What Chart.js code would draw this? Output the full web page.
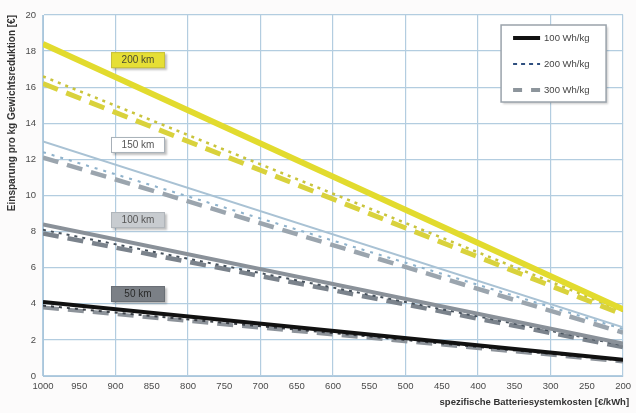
<!DOCTYPE html>
<html lang="de">
<head>
  <meta charset="UTF-8">
  <title>Einsparung pro kg Gewichtsreduktion</title>
  <script src="https://cdn.jsdelivr.net/npm/chart.js"></script>
  <style>
    html, body {
      margin: 0;
      padding: 0;
      background: #fcfbfb;
    }
    #wrap {
      width: 636px;
      height: 413px;
      position: relative;
    }
  </style>
</head>
<body>
  <div id="wrap">
    <canvas id="chart" width="636" height="413"></canvas>
  </div>

  <script>
    const costs = [1000, 200];

    const wh100_200km = [18.4, 3.7];
    const wh200_200km = [16.6, 3.6];
    const wh300_200km = [16.2, 3.4];

    const wh100_150km = [13.0, 2.7];
    const wh200_150km = [12.4, 2.6];
    const wh300_150km = [12.1, 2.4];

    const wh100_100km = [8.4, 1.8];
    const wh200_100km = [8.1, 1.7];
    const wh300_100km = [7.9, 1.6];

    const wh100_50km = [4.1, 0.9];
    const wh200_50km = [3.9, 0.85];
    const wh300_50km = [3.8, 0.8];

    const legendLabels = ['100 Wh/kg', '200 Wh/kg', '300 Wh/kg'];
    const distanceLabels = ['200 km', '150 km', '100 km', '50 km'];

    const xTitle = 'spezifische Batteriesystemkosten [€/kWh]';
    const yTitle = 'Einsparung pro kg Gewichtsreduktion [€]';

    const FONT = '"Liberation Sans", Arial, sans-serif';

    function pts(values) {
      return values.map((v, i) => ({ x: costs[i], y: v }));
    }

    function line(label, values, color, width, dash) {
      return {
        label: label,
        data: pts(values),
        borderColor: color,
        borderWidth: width,
        borderDash: dash || [],
        pointRadius: 0,
        fill: false,
        tension: 0
      };
    }

    const datasets = [
      line('100 Wh/kg 50 km', wh100_50km, '#111111', 4),
      line('200 Wh/kg 50 km', wh200_50km, '#3a3f46', 2, [3, 5]),
      line('300 Wh/kg 50 km', wh300_50km, '#8d939a', 4, [16, 9]),

      line('100 Wh/kg 100 km', wh100_100km, '#8a9199', 4),
      line('200 Wh/kg 100 km', wh200_100km, '#46515c', 2, [3, 5]),
      line('300 Wh/kg 100 km', wh300_100km, '#7b838c', 4.5, [16, 9]),

      line('100 Wh/kg 150 km', wh100_150km, '#a9c2d4', 2),
      line('200 Wh/kg 150 km', wh200_150km, '#8fb2cb', 2, [3, 6]),
      line('300 Wh/kg 150 km', wh300_150km, '#9ba5ae', 4.5, [16, 9]),

      line('100 Wh/kg 200 km', wh100_200km, '#e2db2e', 6),
      line('200 Wh/kg 200 km', wh200_200km, '#c9c43c', 2.5, [3, 5]),
      line('300 Wh/kg 200 km', wh300_200km, '#d9d23c', 5, [16, 9])
    ];

    // Beschriftungskästen an den Kurven (Lage in Achsenwerten)
    const boxStyles = [
      { cost: 869, val: 17.5, fill: '#e6df35', stroke: '#c8c13a', text: '#4a4a30' },
      { cost: 869, val: 12.8, fill: '#ffffff', stroke: '#a7b0b8', text: '#555' },
      { cost: 869, val: 8.64, fill: '#c8ccd0', stroke: '#b0b5ba', text: '#555' },
      { cost: 869, val: 4.54, fill: '#7b8086', stroke: '#6a6f75', text: '#2a2a2a' }
    ];

    const boxPlugin = {
      id: 'distanceBoxes',
      afterDatasetsDraw(chart) {
        const ctx = chart.ctx;
        const xs = chart.scales.x, ys = chart.scales.y;
        ctx.save();
        ctx.font = '10px ' + FONT;
        ctx.textAlign = 'center';
        ctx.textBaseline = 'middle';
        distanceLabels.forEach((txt, i) => {
          const s = boxStyles[i];
          const cx = xs.getPixelForValue(s.cost);
          const cy = ys.getPixelForValue(s.val);
          const w = 54, h = 16;
          ctx.shadowColor = 'rgba(0,0,0,0.25)';
          ctx.shadowOffsetX = 2;
          ctx.shadowOffsetY = 2;
          ctx.shadowBlur = 2;
          ctx.fillStyle = s.fill;
          ctx.fillRect(cx - w / 2, cy - h / 2, w, h);
          ctx.shadowColor = 'transparent';
          ctx.strokeStyle = s.stroke;
          ctx.lineWidth = 1;
          ctx.strokeRect(cx - w / 2 + 0.5, cy - h / 2 + 0.5, w - 1, h - 1);
          ctx.fillStyle = s.text;
          ctx.fillText(txt, cx, cy + 0.5);
        });
        ctx.restore();
      }
    };

    // eigene Legende oben rechts im Diagramm
    const legendPlugin = {
      id: 'boxLegend',
      afterDatasetsDraw(chart) {
        const ctx = chart.ctx;
        const area = chart.chartArea;
        const bx = area.right - 122, by = area.top + 10, bw = 105, bh = 77;
        ctx.save();
        ctx.shadowColor = 'rgba(0,0,0,0.2)';
        ctx.shadowOffsetX = 2;
        ctx.shadowOffsetY = 2;
        ctx.shadowBlur = 2;
        ctx.fillStyle = '#ffffff';
        ctx.fillRect(bx, by, bw, bh);
        ctx.shadowColor = 'transparent';
        ctx.strokeStyle = '#9aa3ab';
        ctx.lineWidth = 1.5;
        ctx.strokeRect(bx, by, bw, bh);

        const samples = [
          { color: '#111111', width: 4, dash: [] },
          { color: '#2f4f7f', width: 2, dash: [4, 4] },
          { color: '#8d959c', width: 4, dash: [9, 9] }
        ];
        ctx.font = '9.5px ' + FONT;
        ctx.textBaseline = 'middle';
        ctx.textAlign = 'left';
        legendLabels.forEach((txt, i) => {
          const y = by + 13 + i * 26;
          const s = samples[i];
          ctx.beginPath();
          ctx.setLineDash(s.dash);
          ctx.strokeStyle = s.color;
          ctx.lineWidth = s.width;
          ctx.moveTo(bx + 12, y);
          ctx.lineTo(bx + 39, y);
          ctx.stroke();
          ctx.setLineDash([]);
          ctx.fillStyle = '#444';
          ctx.fillText(txt, bx + 43, y);
        });
        ctx.restore();
      }
    };

    // Hintergrund und x-Achsentitel (rechtsbündig unter der Achse)
    const framePlugin = {
      id: 'frame',
      beforeDraw(chart) {
        const ctx = chart.ctx;
        const a = chart.chartArea;
        ctx.save();
        ctx.fillStyle = '#fcfbfb';
        ctx.fillRect(0, 0, chart.width, chart.height);
        ctx.fillStyle = '#ffffff';
        ctx.fillRect(a.left, a.top, a.right - a.left, a.bottom - a.top);
        ctx.restore();
      },
      afterDraw(chart) {
        const ctx = chart.ctx;
        const a = chart.chartArea;
        ctx.save();
        ctx.font = 'bold 9.5px ' + FONT;
        ctx.fillStyle = '#333';
        ctx.textAlign = 'right';
        ctx.textBaseline = 'middle';
        ctx.fillText(xTitle, a.right + 6, a.bottom + 26);
        ctx.restore();
      }
    };

    new Chart(document.getElementById('chart'), {
      type: 'line',
      data: { datasets: datasets },
      options: {
        responsive: false,
        animation: false,
        layout: { padding: { left: 6, top: 15, right: 11, bottom: 0 } },
        plugins: {
          legend: { display: false },
          tooltip: { enabled: false }
        },
        scales: {
          x: {
            type: 'linear',
            reverse: true,
            min: 200,
            max: 1000,
            afterFit(scale) { scale.height = 37; },
            border: { display: true, color: '#a9c6dc' },
            grid: {
              drawTicks: false,
              color: (c) => (c.tick && c.tick.value % 100 === 0) ? '#b3cde0' : 'transparent',
              lineWidth: 1.2
            },
            ticks: {
              stepSize: 50,
              autoSkip: false,
              maxRotation: 0,
              padding: 5,
              color: '#4a4a4a',
              font: { family: FONT, size: 9.5 },
              callback: (v) => String(v)
            }
          },
          y: {
            min: 0,
            max: 20,
            afterFit(scale) { scale.width = 37; },
            border: { display: true, color: '#a9c6dc' },
            grid: {
              drawTicks: false,
              color: '#b3cde0',
              lineWidth: 1.2
            },
            ticks: {
              stepSize: 2,
              padding: 7,
              color: '#4a4a4a',
              font: { family: FONT, size: 9.5 }
            },
            title: {
              display: true,
              text: yTitle,
              align: 'end',
              color: '#333',
              padding: { top: 0, bottom: 2 },
              font: { family: FONT, size: 10, weight: 'bold' }
            }
          }
        }
      },
      plugins: [framePlugin, boxPlugin, legendPlugin]
    });
  </script>
</body>
</html>
